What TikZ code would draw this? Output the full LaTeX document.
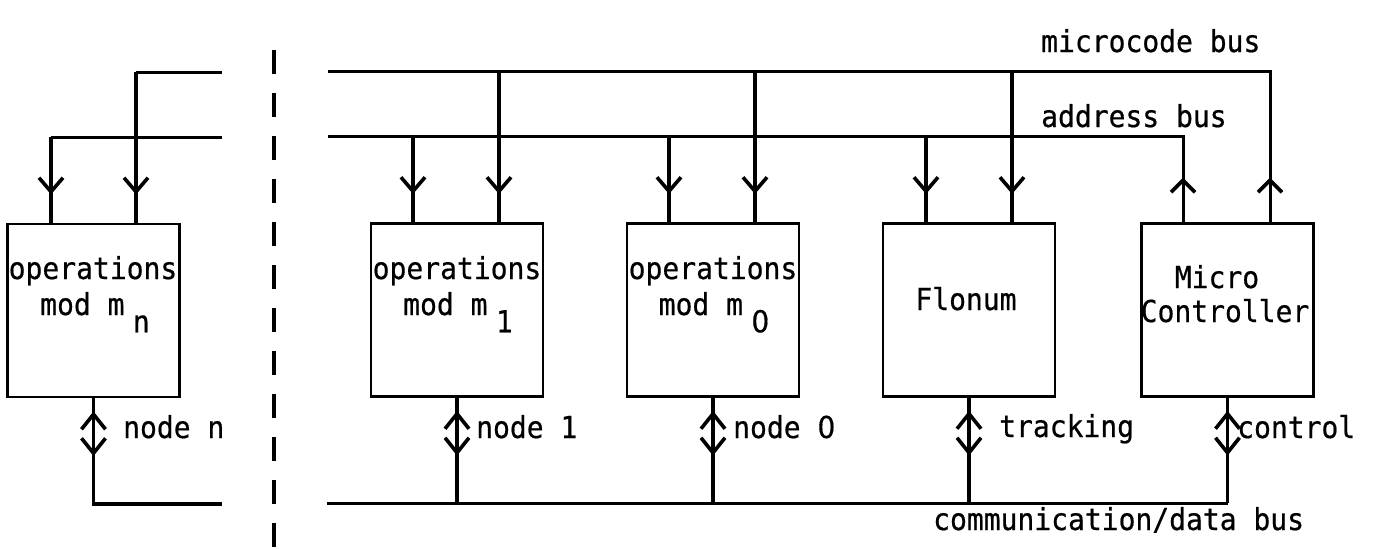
\documentclass[tikz,border=0pt]{standalone}
\usepackage{fontspec}
\newfontfamily\plotfont[FakeBold=0.6]{DejaVu Sans Mono}
% plain (undotted) zero
\newfontfamily\zerofont[FakeBold=0.6]{DejaVu Sans}
\newcommand\plainzero{{\zerofont 0}}
\usetikzlibrary{decorations.markings}

\begin{document}
\begin{tikzpicture}[x=1pt,y=1pt,
  bus/.style={line width=3pt},
  tap/.style={line width=3.4pt},
  box/.style={draw, line width=2.5pt, minimum width=172pt, minimum height=173pt, inner sep=0pt},
  lbl/.style={font=\plotfont\fontsize{28}{33}\selectfont, inner sep=0pt, yscale=1.08},
  headline/.style={line width=3.6pt, line join=round},
  % open V heads drawn in the path's own frame (x runs along the path)
  downhead/.style={postaction={decorate,decoration={markings,
      mark=at position -31pt with {\draw[headline] (-14pt,12pt) -- (0,0) -- (-14pt,-12pt);}}}},
  uphead/.style={postaction={decorate,decoration={markings,
      mark=at position -42pt with {\draw[headline] (12pt,12pt) -- (0,0) -- (12pt,-12pt);}}}},
  bothheads/.style={postaction={decorate,decoration={markings,
      mark=at position 16pt with {\draw[headline] (15pt,12pt) -- (0,0) -- (15pt,-12pt);},
      mark=at position 55pt with {\draw[headline] (-15pt,12pt) -- (0,0) -- (-15pt,-12pt);}}}},
  divider/.style={line width=4pt, dash pattern=on 24pt off 19pt},
]
\useasboundingbox (0,0) rectangle (1390,-549);

% ---- units ----
\node[box] (bn) at (93.5,-310.5) {};
\node[box] (m1) at (457,-310) {};
\node[box] (m0) at (713,-310) {};
\node[box] (fl) at (969,-310) {};
\node[box] (mc) at (1227.5,-310) {};

% ---- bus end points ----
\coordinate (mcLL) at (136,-72);
\coordinate (mcLE) at (222,-72);
\coordinate (adLL) at (51,-137);
\coordinate (adLE) at (222,-137);
\coordinate (dLE)  at (222,-504);

\coordinate (mcL) at (328,-71);
\coordinate (mcR) at (1270,-71);
\coordinate (adL) at (328,-136);
\coordinate (adR) at (1183,-136);
\coordinate (dL)  at (327,-503);

% ---- bus taps ----
\coordinate (a1) at (413,-136);
\coordinate (u1) at (499,-71);
\coordinate (a0) at (669,-136);
\coordinate (u0) at (755,-71);
\coordinate (af) at (926,-136);
\coordinate (uf) at (1012,-71);

% ---- left section ----
\draw[bus] (adLE) -- (adLL);
\draw[tap,downhead] (adLL) -- (adLL |- bn.north);
\draw[bus] (mcLE) -- (mcLL);
\draw[tap,downhead] (mcLL) -- (mcLL |- bn.north);
\draw[tap,bothheads] (bn.south) -- (bn.south |- dLE) -- (dLE);

% ---- separator ----
\coordinate (sepT) at (274,-50);
\coordinate (sepB) at (274,-549);
\draw[divider] (sepT) -- (sepB);

% ---- microcode and address buses ----
\draw[bus,uphead] (mcL) -- (mcR) -- (mcR |- mc.north);
\draw[bus,uphead] (adL) -- (adR) -- (adR |- mc.north);

\draw[tap,downhead] (a1) -- (a1 |- m1.north);
\draw[tap,downhead] (u1) -- (u1 |- m1.north);
\draw[tap,downhead] (a0) -- (a0 |- m0.north);
\draw[tap,downhead] (u0) -- (u0 |- m0.north);
\draw[tap,downhead] (af) -- (af |- fl.north);
\draw[tap,downhead] (uf) -- (uf |- fl.north);

% ---- communication/data bus ----
\draw[bus] (dL) -- (dL -| mc.south);
\draw[tap,bothheads] (m1.south) -- (m1.south |- dL);
\draw[tap,bothheads] (m0.south) -- (m0.south |- dL);
\draw[tap,bothheads] (fl.south) -- (fl.south |- dL);
\draw[tap,bothheads] (mc.south) -- (mc.south |- dL);

% ---- unit texts ----
\node[lbl,anchor=base] (bnA) at (93,-279) {operations};
\node[lbl,anchor=base] (bnB) at (95,-315) {mod m\hspace{0.3em}\raisebox{-16pt}{n}};
\node[lbl,anchor=base] (m1A) at (457,-279) {operations};
\node[lbl,anchor=base] (m1B) at (458,-315) {mod m\hspace{0.3em}\raisebox{-16pt}{1}};
\node[lbl,anchor=base] (m0A) at (713,-279) {operations};
\node[lbl,anchor=base] (m0B) at (714,-315) {mod m\hspace{0.3em}\raisebox{-16pt}{\plainzero}};
\node[lbl,anchor=base] (flA) at (966,-310) {Flonum};
\node[lbl,anchor=base] (mcA) at (1217,-288) {Micro};
\node[lbl,anchor=base] (mcB) at (1225,-322) {Controller};

% ---- bus and link labels ----
\node[lbl,anchor=base west] (tMc) at (1041,-52) {microcode bus};
\node[lbl,anchor=base west] (tAd) at (1041,-127) {address bus};
\node[lbl,anchor=base west] (tNn) at (123,-438) {node n};
\node[lbl,anchor=base west] (tN1) at (476,-438) {node 1};
\node[lbl,anchor=base west] (tN0) at (733,-438) {node \plainzero};
\node[lbl,anchor=base west] (tTr) at (999,-437) {tracking};
\node[lbl,anchor=base west] (tCo) at (1237,-438) {control};
\node[lbl,anchor=base west] (tCd) at (933,-530) {communication/data bus};
\end{tikzpicture}
\end{document}
